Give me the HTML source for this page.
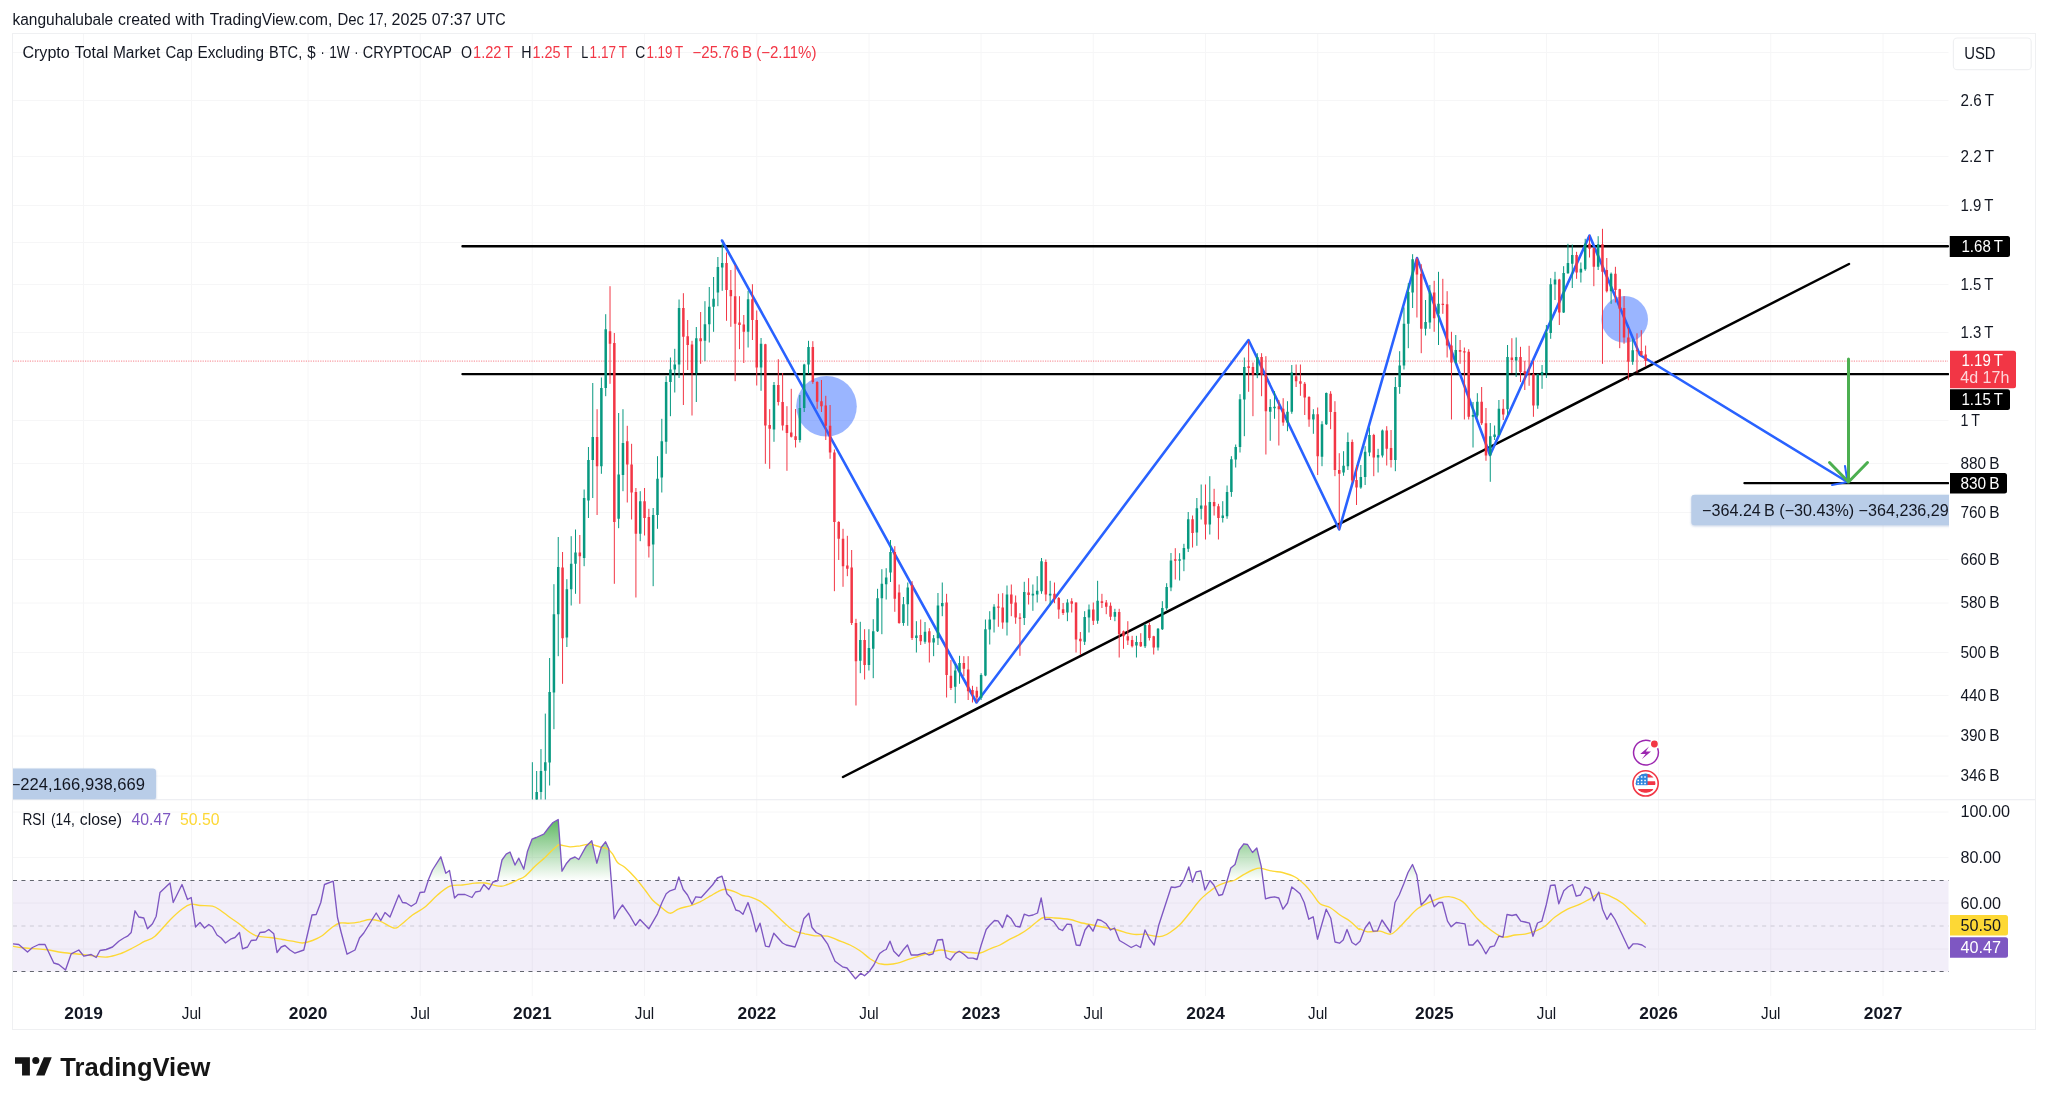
<!DOCTYPE html><html><head><meta charset="utf-8"><title>TradingView chart</title><style>html,body{margin:0;padding:0;background:#fff}body{width:2048px;height:1104px;overflow:hidden;font-family:"Liberation Sans",sans-serif}svg{display:block;will-change:transform}</style></head><body><svg width="2048" height="1104" viewBox="0 0 2048 1104" font-family='"Liberation Sans", sans-serif'><defs><clipPath id="mainclip"><rect x="13" y="34" width="1936" height="765.5"/></clipPath><clipPath id="rsiclip"><rect x="13" y="800.5" width="1936" height="186"/></clipPath><filter id="sh" x="-5%" y="-20%" width="110%" height="150%"><feDropShadow dx="0" dy="1" stdDeviation="1.2" flood-color="#5b7db8" flood-opacity="0.35"/></filter><linearGradient id="gob" x1="0" y1="0" x2="0" y2="1"><stop offset="0" stop-color="#4caf50" stop-opacity="1"/><stop offset="1" stop-color="#4caf50" stop-opacity="0"/></linearGradient><linearGradient id="gos" x1="0" y1="0" x2="0" y2="1"><stop offset="0" stop-color="#f44336" stop-opacity="0"/><stop offset="1" stop-color="#f44336" stop-opacity="1"/></linearGradient></defs><text x="12.5" y="24.8" font-size="16" fill="#131722" textLength="100.7" lengthAdjust="spacingAndGlyphs">kanguhalubale</text>
<text x="118" y="24.8" font-size="16" fill="#131722" textLength="52.7" lengthAdjust="spacingAndGlyphs">created</text>
<text x="175.6" y="24.8" font-size="16" fill="#131722" textLength="29.1" lengthAdjust="spacingAndGlyphs">with</text>
<text x="209.8" y="24.8" font-size="16" fill="#131722" textLength="122.5" lengthAdjust="spacingAndGlyphs">TradingView.com,</text>
<text x="337.4" y="24.8" font-size="16" fill="#131722" textLength="26.6" lengthAdjust="spacingAndGlyphs">Dec</text>
<text x="368.4" y="24.8" font-size="16" fill="#131722" textLength="18.8" lengthAdjust="spacingAndGlyphs">17,</text>
<text x="391.6" y="24.8" font-size="16" fill="#131722" textLength="35.6" lengthAdjust="spacingAndGlyphs">2025</text>
<text x="431.8" y="24.8" font-size="16" fill="#131722" textLength="39.7" lengthAdjust="spacingAndGlyphs">07:37</text>
<text x="476.1" y="24.8" font-size="16" fill="#131722" textLength="29.6" lengthAdjust="spacingAndGlyphs">UTC</text>
<rect x="12.5" y="33.5" width="2023" height="996" fill="#fff" stroke="#eff0f2" stroke-width="1"/>
<path d="M83.5 34V996M191.5 34V996M308.0 34V996M420.25 34V996M532.25 34V996M644.5 34V996M756.75 34V996M869.0 34V996M981.0 34V996M1093.25 34V996M1205.5 34V996M1317.75 34V996M1434.25 34V996M1546.5 34V996M1658.5 34V996M1770.75 34V996M1883.0 34V996M13 52.5H1948.5M13 100.5H1948.5M13 156.5H1948.5M13 205.5H1948.5M13 242.5H1948.5M13 284.5H1948.5M13 332.5H1948.5M13 420.5H1948.5M13 463.5H1948.5M13 512.5H1948.5M13 559.5H1948.5M13 603.0H1948.5M13 652.5H1948.5M13 695.5H1948.5M13 736.0H1948.5M13 776.0H1948.5M13 812.0H1948.5M13 857.5H1948.5M13 903.0H1948.5M13 949.0H1948.5" stroke="#f6f6f7" stroke-width="1" fill="none"/>
<path d="M13 799.7H2035" stroke="#e9eaef" stroke-width="1.1"/>
<rect x="13" y="880.45" width="1935.5" height="91.09999999999991" fill="#7e57c2" fill-opacity="0.1"/>
<path d="M13 880.45H1948.5" stroke="#62656f" stroke-width="1.1" stroke-dasharray="4 4.45" fill="none"/>
<path d="M13 926.0H1948.5" stroke="#cbc9d5" stroke-width="1.1" stroke-dasharray="4 4.45" fill="none"/>
<path d="M13 971.55H1948.5" stroke="#62656f" stroke-width="1.1" stroke-dasharray="4 4.45" fill="none"/>
<g clip-path="url(#rsiclip)">
<defs><clipPath id="ob"><rect x="0" y="802.125" width="2048" height="78.32500000000005"/></clipPath><clipPath id="os"><rect x="0" y="971.55" width="2048" height="68.32500000000005"/></clipPath><linearGradient id="gob2" gradientUnits="userSpaceOnUse" x1="0" y1="812.125" x2="0" y2="880.45"><stop offset="0" stop-color="#4caf50" stop-opacity="1"/><stop offset="1" stop-color="#4caf50" stop-opacity="0"/></linearGradient><linearGradient id="gos2" gradientUnits="userSpaceOnUse" x1="0" y1="971.55" x2="0" y2="1039.875"><stop offset="0" stop-color="#f44336" stop-opacity="0"/><stop offset="1" stop-color="#f44336" stop-opacity="1"/></linearGradient></defs>
<path d="M12.5 880.5L12.5 943.8L18.8 944.5L27.5 952.0L32.5 947.5L38.8 944.5L45.0 944.5L53.8 963.0L58.8 964.5L65.5 970.0L71.2 953.8L78.8 950.0L83.8 956.2L91.2 954.5L96.2 957.5L100.0 950.5L106.2 949.5L112.5 947.0L118.8 941.2L123.8 938.0L127.5 936.2L131.2 932.5L135.0 910.8L138.8 917.0L143.8 918.0L147.5 928.8L152.5 923.8L156.2 916.2L160.0 892.5L170.0 883.0L173.2 902.5L182.0 884.5L187.5 899.5L191.2 897.5L195.5 927.0L200.0 922.5L204.5 928.0L208.8 924.5L212.5 927.0L217.0 935.0L221.2 938.0L225.5 943.0L231.2 938.8L235.0 937.5L239.5 932.5L242.5 948.8L247.5 947.0L251.2 940.5L256.2 940.0L260.0 932.5L265.0 932.0L268.8 929.5L273.8 933.8L277.0 952.5L281.2 947.0L285.0 945.5L290.0 950.0L295.0 953.2L303.8 950.0L312.0 915.0L316.2 914.5L320.8 902.5L324.5 884.5L333.2 881.2L337.5 917.5L341.2 932.5L347.0 954.2L355.0 950.0L359.5 938.0L363.8 933.0L376.2 913.0L380.8 920.5L385.0 912.5L390.0 917.0L398.8 895.0L402.5 902.5L406.2 903.0L411.2 906.2L416.2 903.0L420.0 892.5L424.5 892.0L428.8 878.8L432.5 870.0L440.8 856.8L445.8 873.2L449.5 870.5L454.5 898.0L458.0 894.5L465.0 894.5L472.0 897.5L475.5 892.0L480.0 891.2L483.8 884.5L488.8 889.5L493.0 882.0L497.5 880.8L502.0 860.0L506.2 854.2L510.0 852.0L515.0 865.0L518.8 858.2L523.8 869.2L527.5 851.2L532.0 839.2L536.2 837.5L543.8 834.2L548.8 827.5L553.0 822.5L558.2 819.5L562.0 871.2L566.2 863.8L570.5 858.8L575.0 857.0L578.8 859.5L586.2 846.2L591.8 840.8L596.8 863.2L601.2 847.5L605.5 841.8L608.8 848.8L614.2 918.8L618.0 911.2L622.5 905.0L630.0 915.8L635.5 925.5L640.0 919.5L648.8 928.8L657.5 913.8L662.0 902.5L666.2 893.8L670.0 890.8L675.0 889.2L678.8 877.0L683.2 889.5L687.5 895.0L692.0 904.2L695.8 896.8L701.2 897.5L712.5 885.0L717.5 878.0L722.0 876.2L727.0 893.8L730.8 897.5L735.8 910.0L739.5 911.2L743.0 914.2L748.0 902.5L752.0 915.0L756.2 931.8L760.0 923.2L765.5 946.2L769.2 946.8L773.8 933.2L782.5 943.0L786.2 945.0L795.0 947.0L799.5 935.0L803.8 918.8L808.8 913.2L812.0 927.5L816.2 932.5L821.2 935.0L827.5 943.8L835.0 961.2L842.5 966.8L847.0 968.0L855.5 978.8L860.8 973.2L864.5 975.8L869.5 971.2L873.8 965.0L878.8 955.0L880.0 953.2L883.8 950.5L886.2 949.5L890.0 941.2L893.8 951.2L898.8 956.2L903.8 949.2L907.5 945.0L911.2 955.0L917.5 955.0L921.2 953.8L925.0 953.0L928.8 955.0L933.0 953.8L937.5 940.0L942.5 939.5L946.2 957.5L950.5 960.0L955.0 953.8L959.2 951.2L963.8 954.2L968.0 958.0L973.0 958.2L977.0 959.5L981.2 945.0L986.2 929.5L990.0 925.0L994.5 920.5L998.0 920.8L1002.5 927.5L1007.0 915.0L1011.2 918.8L1015.5 926.2L1020.0 927.0L1024.2 914.2L1028.8 915.8L1033.0 915.0L1037.5 913.0L1041.2 898.0L1045.0 919.5L1050.0 919.2L1053.8 921.8L1058.8 928.8L1062.5 930.5L1067.0 924.2L1071.2 924.5L1076.2 945.0L1080.0 945.5L1085.0 930.0L1088.8 925.0L1093.0 931.2L1097.5 919.5L1101.2 920.5L1106.2 923.8L1110.5 930.0L1114.5 928.0L1119.5 940.5L1123.8 943.0L1131.2 947.5L1136.2 945.0L1140.5 947.5L1145.0 930.0L1149.5 938.8L1154.2 945.0L1158.8 925.0L1171.2 887.0L1175.0 887.5L1180.0 886.2L1183.8 880.0L1188.8 867.0L1192.5 882.0L1196.2 871.8L1200.8 870.8L1205.0 890.0L1210.0 880.5L1213.8 885.0L1218.8 895.5L1222.5 894.5L1226.2 883.8L1230.8 868.0L1235.0 864.5L1239.2 850.0L1243.8 843.8L1247.5 844.5L1252.5 852.5L1256.8 848.0L1261.2 866.2L1265.5 898.8L1270.0 897.5L1274.5 896.8L1278.8 898.0L1283.0 909.2L1287.5 903.0L1291.8 887.0L1296.2 890.5L1300.0 893.8L1304.2 902.5L1308.8 919.2L1313.2 916.8L1317.5 939.2L1326.2 909.2L1330.8 918.2L1335.0 942.0L1339.5 943.2L1343.2 940.0L1347.0 929.5L1352.0 942.5L1355.8 945.0L1360.0 941.2L1365.0 928.2L1369.5 922.0L1373.2 931.2L1377.5 930.8L1382.0 920.0L1390.5 932.5L1395.0 902.5L1399.2 895.0L1403.8 883.8L1408.0 872.5L1412.5 864.5L1416.8 875.0L1421.2 905.0L1425.5 900.5L1430.0 894.5L1434.2 906.8L1438.8 902.5L1442.5 902.5L1447.5 921.2L1451.2 926.8L1456.2 922.5L1460.5 923.2L1465.0 923.8L1468.8 945.0L1473.0 945.0L1477.5 940.0L1481.8 946.2L1485.8 953.8L1490.0 947.0L1494.5 945.8L1498.8 936.2L1503.0 937.0L1507.0 914.5L1512.0 915.5L1516.2 914.5L1520.8 921.2L1525.0 922.0L1529.5 923.2L1533.0 936.2L1537.5 923.0L1541.8 921.2L1546.2 905.0L1550.5 885.5L1555.0 885.0L1558.8 903.8L1563.8 890.8L1568.0 887.0L1572.5 884.5L1576.2 896.2L1580.5 895.0L1585.0 886.8L1590.0 889.2L1593.8 900.8L1598.8 892.0L1602.5 909.2L1607.0 919.5L1610.8 913.2L1615.0 919.5L1628.8 948.8L1633.2 943.8L1637.5 943.8L1642.0 945.0L1645.8 947.5L1645.8 880.5Z" fill="url(#gob2)" clip-path="url(#ob)"/>
<path d="M12.5 971.5L12.5 943.8L18.8 944.5L27.5 952.0L32.5 947.5L38.8 944.5L45.0 944.5L53.8 963.0L58.8 964.5L65.5 970.0L71.2 953.8L78.8 950.0L83.8 956.2L91.2 954.5L96.2 957.5L100.0 950.5L106.2 949.5L112.5 947.0L118.8 941.2L123.8 938.0L127.5 936.2L131.2 932.5L135.0 910.8L138.8 917.0L143.8 918.0L147.5 928.8L152.5 923.8L156.2 916.2L160.0 892.5L170.0 883.0L173.2 902.5L182.0 884.5L187.5 899.5L191.2 897.5L195.5 927.0L200.0 922.5L204.5 928.0L208.8 924.5L212.5 927.0L217.0 935.0L221.2 938.0L225.5 943.0L231.2 938.8L235.0 937.5L239.5 932.5L242.5 948.8L247.5 947.0L251.2 940.5L256.2 940.0L260.0 932.5L265.0 932.0L268.8 929.5L273.8 933.8L277.0 952.5L281.2 947.0L285.0 945.5L290.0 950.0L295.0 953.2L303.8 950.0L312.0 915.0L316.2 914.5L320.8 902.5L324.5 884.5L333.2 881.2L337.5 917.5L341.2 932.5L347.0 954.2L355.0 950.0L359.5 938.0L363.8 933.0L376.2 913.0L380.8 920.5L385.0 912.5L390.0 917.0L398.8 895.0L402.5 902.5L406.2 903.0L411.2 906.2L416.2 903.0L420.0 892.5L424.5 892.0L428.8 878.8L432.5 870.0L440.8 856.8L445.8 873.2L449.5 870.5L454.5 898.0L458.0 894.5L465.0 894.5L472.0 897.5L475.5 892.0L480.0 891.2L483.8 884.5L488.8 889.5L493.0 882.0L497.5 880.8L502.0 860.0L506.2 854.2L510.0 852.0L515.0 865.0L518.8 858.2L523.8 869.2L527.5 851.2L532.0 839.2L536.2 837.5L543.8 834.2L548.8 827.5L553.0 822.5L558.2 819.5L562.0 871.2L566.2 863.8L570.5 858.8L575.0 857.0L578.8 859.5L586.2 846.2L591.8 840.8L596.8 863.2L601.2 847.5L605.5 841.8L608.8 848.8L614.2 918.8L618.0 911.2L622.5 905.0L630.0 915.8L635.5 925.5L640.0 919.5L648.8 928.8L657.5 913.8L662.0 902.5L666.2 893.8L670.0 890.8L675.0 889.2L678.8 877.0L683.2 889.5L687.5 895.0L692.0 904.2L695.8 896.8L701.2 897.5L712.5 885.0L717.5 878.0L722.0 876.2L727.0 893.8L730.8 897.5L735.8 910.0L739.5 911.2L743.0 914.2L748.0 902.5L752.0 915.0L756.2 931.8L760.0 923.2L765.5 946.2L769.2 946.8L773.8 933.2L782.5 943.0L786.2 945.0L795.0 947.0L799.5 935.0L803.8 918.8L808.8 913.2L812.0 927.5L816.2 932.5L821.2 935.0L827.5 943.8L835.0 961.2L842.5 966.8L847.0 968.0L855.5 978.8L860.8 973.2L864.5 975.8L869.5 971.2L873.8 965.0L878.8 955.0L880.0 953.2L883.8 950.5L886.2 949.5L890.0 941.2L893.8 951.2L898.8 956.2L903.8 949.2L907.5 945.0L911.2 955.0L917.5 955.0L921.2 953.8L925.0 953.0L928.8 955.0L933.0 953.8L937.5 940.0L942.5 939.5L946.2 957.5L950.5 960.0L955.0 953.8L959.2 951.2L963.8 954.2L968.0 958.0L973.0 958.2L977.0 959.5L981.2 945.0L986.2 929.5L990.0 925.0L994.5 920.5L998.0 920.8L1002.5 927.5L1007.0 915.0L1011.2 918.8L1015.5 926.2L1020.0 927.0L1024.2 914.2L1028.8 915.8L1033.0 915.0L1037.5 913.0L1041.2 898.0L1045.0 919.5L1050.0 919.2L1053.8 921.8L1058.8 928.8L1062.5 930.5L1067.0 924.2L1071.2 924.5L1076.2 945.0L1080.0 945.5L1085.0 930.0L1088.8 925.0L1093.0 931.2L1097.5 919.5L1101.2 920.5L1106.2 923.8L1110.5 930.0L1114.5 928.0L1119.5 940.5L1123.8 943.0L1131.2 947.5L1136.2 945.0L1140.5 947.5L1145.0 930.0L1149.5 938.8L1154.2 945.0L1158.8 925.0L1171.2 887.0L1175.0 887.5L1180.0 886.2L1183.8 880.0L1188.8 867.0L1192.5 882.0L1196.2 871.8L1200.8 870.8L1205.0 890.0L1210.0 880.5L1213.8 885.0L1218.8 895.5L1222.5 894.5L1226.2 883.8L1230.8 868.0L1235.0 864.5L1239.2 850.0L1243.8 843.8L1247.5 844.5L1252.5 852.5L1256.8 848.0L1261.2 866.2L1265.5 898.8L1270.0 897.5L1274.5 896.8L1278.8 898.0L1283.0 909.2L1287.5 903.0L1291.8 887.0L1296.2 890.5L1300.0 893.8L1304.2 902.5L1308.8 919.2L1313.2 916.8L1317.5 939.2L1326.2 909.2L1330.8 918.2L1335.0 942.0L1339.5 943.2L1343.2 940.0L1347.0 929.5L1352.0 942.5L1355.8 945.0L1360.0 941.2L1365.0 928.2L1369.5 922.0L1373.2 931.2L1377.5 930.8L1382.0 920.0L1390.5 932.5L1395.0 902.5L1399.2 895.0L1403.8 883.8L1408.0 872.5L1412.5 864.5L1416.8 875.0L1421.2 905.0L1425.5 900.5L1430.0 894.5L1434.2 906.8L1438.8 902.5L1442.5 902.5L1447.5 921.2L1451.2 926.8L1456.2 922.5L1460.5 923.2L1465.0 923.8L1468.8 945.0L1473.0 945.0L1477.5 940.0L1481.8 946.2L1485.8 953.8L1490.0 947.0L1494.5 945.8L1498.8 936.2L1503.0 937.0L1507.0 914.5L1512.0 915.5L1516.2 914.5L1520.8 921.2L1525.0 922.0L1529.5 923.2L1533.0 936.2L1537.5 923.0L1541.8 921.2L1546.2 905.0L1550.5 885.5L1555.0 885.0L1558.8 903.8L1563.8 890.8L1568.0 887.0L1572.5 884.5L1576.2 896.2L1580.5 895.0L1585.0 886.8L1590.0 889.2L1593.8 900.8L1598.8 892.0L1602.5 909.2L1607.0 919.5L1610.8 913.2L1615.0 919.5L1628.8 948.8L1633.2 943.8L1637.5 943.8L1642.0 945.0L1645.8 947.5L1645.8 971.5Z" fill="url(#gos2)" clip-path="url(#os)"/>
<path d="M12.5 946.2C14.6 946.5 19.6 947.5 25.0 948.0C30.4 948.5 38.8 948.8 45.0 949.5C51.2 950.2 56.2 951.7 62.5 952.5C68.8 953.3 77.1 953.9 82.5 954.5C87.9 955.1 90.8 955.8 95.0 956.2C99.2 956.7 103.3 957.4 107.5 957.0C111.7 956.6 115.8 955.2 120.0 953.8C124.2 952.2 128.3 950.1 132.5 948.0C136.7 945.9 141.2 943.2 145.0 941.2C148.8 939.3 150.8 939.8 155.0 936.2C159.2 932.7 165.4 924.6 170.0 920.0C174.6 915.4 179.0 911.4 182.5 908.8C186.0 906.1 188.3 904.8 191.2 904.2C194.2 903.7 196.5 905.2 200.0 905.5C203.5 905.8 209.2 905.5 212.5 906.2C215.8 907.0 217.1 908.1 220.0 910.0C222.9 911.9 226.7 915.1 230.0 917.5C233.3 919.9 236.7 922.0 240.0 924.5C243.3 927.0 247.1 930.5 250.0 932.5C252.9 934.5 254.2 935.4 257.5 936.2C260.8 937.1 265.8 937.0 270.0 937.5C274.2 938.0 278.8 938.9 282.5 939.5C286.2 940.1 289.2 940.7 292.5 941.2C295.8 941.8 299.2 943.1 302.5 943.0C305.8 942.9 309.2 941.8 312.5 940.5C315.8 939.2 319.2 937.8 322.5 935.5C325.8 933.2 329.6 929.1 332.5 927.0C335.4 924.9 337.1 923.6 340.0 923.0C342.9 922.4 346.7 923.5 350.0 923.2C353.3 923.0 356.7 922.4 360.0 921.8C363.3 921.1 366.7 919.6 370.0 919.5C373.3 919.4 376.0 919.8 380.0 921.2C384.0 922.7 390.4 927.3 393.8 928.0C397.1 928.7 396.9 927.7 400.0 925.5C403.1 923.3 408.3 918.1 412.5 915.0C416.7 911.9 420.8 910.3 425.0 907.0C429.2 903.7 433.3 898.5 437.5 895.0C441.7 891.5 445.8 887.9 450.0 886.2C454.2 884.6 458.3 885.5 462.5 885.0C466.7 884.5 471.2 883.6 475.0 883.2C478.8 882.9 480.8 882.5 485.0 883.0C489.2 883.5 496.2 886.0 500.0 886.2C503.8 886.5 504.6 885.5 507.5 884.5C510.4 883.5 514.6 881.4 517.5 880.0C520.4 878.6 522.1 878.5 525.0 876.2C527.9 874.0 531.7 869.4 535.0 866.2C538.3 863.1 542.1 860.2 545.0 857.5C547.9 854.8 550.6 851.8 552.5 850.0C554.4 848.2 555.5 847.3 556.5 846.5C557.5 845.7 557.5 845.2 558.2 845.0C559.0 844.8 558.8 844.7 560.8 845.0C562.7 845.3 566.8 846.6 570.0 846.8C573.2 846.9 576.7 846.2 580.0 845.8C583.3 845.3 586.7 844.0 590.0 844.2C593.3 844.5 597.1 846.2 600.0 847.0C602.9 847.8 605.4 847.6 607.5 848.8C609.6 849.9 610.8 851.5 612.5 853.8C614.2 856.0 615.4 860.2 617.5 862.5C619.6 864.8 622.1 865.0 625.0 867.5C627.9 870.0 631.7 873.8 635.0 877.5C638.3 881.2 642.1 886.2 645.0 890.0C647.9 893.8 650.0 897.3 652.5 900.0C655.0 902.7 657.1 904.0 660.0 906.2C662.9 908.5 666.9 912.8 670.0 913.2C673.1 913.7 675.4 910.0 678.8 908.8C682.1 907.5 686.5 906.9 690.0 905.8C693.5 904.6 696.7 903.3 700.0 901.8C703.3 900.2 707.1 897.9 710.0 896.2C712.9 894.6 715.0 892.9 717.5 891.8C720.0 890.6 722.1 889.2 725.0 889.2C727.9 889.2 732.1 890.7 735.0 891.8C737.9 892.8 740.0 894.7 742.5 895.5C745.0 896.3 747.1 895.8 750.0 896.8C752.9 897.7 756.7 899.2 760.0 901.2C763.3 903.3 766.7 906.3 770.0 909.2C773.3 912.2 777.1 916.0 780.0 918.8C782.9 921.5 785.0 923.7 787.5 925.8C790.0 927.8 792.1 929.9 795.0 931.2C797.9 932.6 801.7 933.0 805.0 933.8C808.3 934.5 811.2 935.3 815.0 935.8C818.8 936.2 823.8 935.5 827.5 936.2C831.2 937.0 833.8 938.5 837.5 940.0C841.2 941.5 846.2 943.2 850.0 945.0C853.8 946.8 856.7 948.5 860.0 950.8C863.3 953.0 867.1 956.7 870.0 958.8C872.9 960.8 875.8 962.2 877.5 963.0C879.2 963.8 878.3 963.5 880.0 963.8C881.7 964.0 884.6 964.6 887.5 964.5C890.4 964.4 893.8 964.2 897.5 963.2C901.2 962.3 905.8 960.1 910.0 958.8C914.2 957.4 918.8 956.1 922.5 955.0C926.2 953.9 929.4 952.8 932.5 952.0C935.6 951.2 937.9 950.0 941.2 950.0C944.6 950.0 948.5 951.7 952.5 952.0C956.5 952.3 960.4 951.8 965.0 952.0C969.6 952.2 975.8 953.5 980.0 953.0C984.2 952.5 986.7 950.1 990.0 948.8C993.3 947.4 996.7 946.6 1000.0 945.0C1003.3 943.4 1006.7 941.0 1010.0 939.2C1013.3 937.5 1016.7 936.2 1020.0 934.2C1023.3 932.3 1027.1 929.7 1030.0 927.5C1032.9 925.3 1035.2 922.9 1037.5 921.2C1039.8 919.6 1040.8 918.0 1043.8 917.5C1046.7 917.0 1050.6 917.7 1055.0 918.0C1059.4 918.3 1065.8 918.8 1070.0 919.5C1074.2 920.2 1076.2 921.6 1080.0 922.5C1083.8 923.4 1088.3 924.2 1092.5 925.0C1096.7 925.8 1100.8 926.7 1105.0 927.5C1109.2 928.3 1112.9 928.9 1117.5 930.0C1122.1 931.1 1127.9 933.5 1132.5 934.2C1137.1 935.0 1141.2 933.9 1145.0 934.2C1148.8 934.6 1152.1 935.9 1155.0 936.2C1157.9 936.6 1160.0 936.9 1162.5 936.2C1165.0 935.6 1167.1 934.5 1170.0 932.5C1172.9 930.5 1176.7 927.8 1180.0 924.5C1183.3 921.2 1186.7 916.6 1190.0 912.5C1193.3 908.4 1196.7 903.5 1200.0 900.0C1203.3 896.5 1207.1 893.6 1210.0 891.2C1212.9 888.9 1214.6 887.3 1217.5 885.8C1220.4 884.2 1224.6 883.0 1227.5 882.0C1230.4 881.0 1232.1 881.4 1235.0 880.0C1237.9 878.6 1241.9 875.5 1245.0 873.8C1248.1 872.0 1251.2 870.4 1253.8 869.5C1256.2 868.6 1256.9 868.0 1260.0 868.2C1263.1 868.5 1268.8 870.5 1272.5 871.2C1276.2 872.0 1278.8 871.5 1282.5 872.5C1286.2 873.5 1291.2 874.9 1295.0 877.0C1298.8 879.1 1302.1 882.2 1305.0 885.0C1307.9 887.8 1310.0 890.6 1312.5 893.8C1315.0 896.9 1317.1 901.5 1320.0 903.8C1322.9 906.0 1326.7 905.6 1330.0 907.5C1333.3 909.4 1336.7 912.7 1340.0 915.0C1343.3 917.3 1346.9 918.9 1350.0 921.2C1353.1 923.6 1357.1 928.0 1358.8 929.2C1360.4 930.5 1358.5 928.3 1360.0 928.8C1361.5 929.2 1364.2 931.3 1367.5 931.8C1370.8 932.2 1376.2 930.8 1380.0 931.2C1383.8 931.7 1387.6 934.6 1390.5 934.2C1393.4 933.9 1394.7 931.8 1397.5 929.2C1400.3 926.7 1404.2 922.2 1407.5 918.8C1410.8 915.3 1414.2 911.3 1417.5 908.8C1420.8 906.2 1423.8 905.0 1427.5 903.2C1431.2 901.5 1436.2 899.1 1440.0 898.0C1443.8 896.9 1447.4 896.5 1450.5 896.8C1453.6 897.0 1456.3 898.3 1458.8 899.5C1461.2 900.7 1461.9 900.5 1465.0 903.8C1468.1 907.0 1473.3 914.5 1477.5 918.8C1481.7 923.0 1485.8 926.5 1490.0 929.5C1494.2 932.5 1498.3 936.1 1502.5 937.0C1506.7 937.9 1511.2 935.5 1515.0 935.0C1518.8 934.5 1521.7 934.9 1525.0 934.2C1528.3 933.6 1531.7 932.6 1535.0 931.2C1538.3 929.9 1541.7 928.6 1545.0 926.2C1548.3 923.9 1551.2 919.8 1555.0 917.0C1558.8 914.2 1563.3 911.4 1567.5 909.2C1571.7 907.1 1576.2 906.0 1580.0 904.2C1583.8 902.5 1586.7 900.6 1590.0 898.8C1593.3 896.9 1596.7 893.7 1600.0 893.2C1603.3 892.8 1606.2 894.6 1610.0 896.2C1613.8 897.9 1618.8 900.5 1622.5 903.2C1626.2 906.0 1629.4 909.7 1632.5 912.5C1635.6 915.3 1639.0 918.0 1641.2 920.0C1643.5 922.0 1645.0 923.8 1645.8 924.5" fill="none" stroke="#fdd835" stroke-width="1.35" stroke-linejoin="round"/>
<path d="M12.5 943.8L18.8 944.5L27.5 952.0L32.5 947.5L38.8 944.5L45.0 944.5L53.8 963.0L58.8 964.5L65.5 970.0L71.2 953.8L78.8 950.0L83.8 956.2L91.2 954.5L96.2 957.5L100.0 950.5L106.2 949.5L112.5 947.0L118.8 941.2L123.8 938.0L127.5 936.2L131.2 932.5L135.0 910.8L138.8 917.0L143.8 918.0L147.5 928.8L152.5 923.8L156.2 916.2L160.0 892.5L170.0 883.0L173.2 902.5L182.0 884.5L187.5 899.5L191.2 897.5L195.5 927.0L200.0 922.5L204.5 928.0L208.8 924.5L212.5 927.0L217.0 935.0L221.2 938.0L225.5 943.0L231.2 938.8L235.0 937.5L239.5 932.5L242.5 948.8L247.5 947.0L251.2 940.5L256.2 940.0L260.0 932.5L265.0 932.0L268.8 929.5L273.8 933.8L277.0 952.5L281.2 947.0L285.0 945.5L290.0 950.0L295.0 953.2L303.8 950.0L312.0 915.0L316.2 914.5L320.8 902.5L324.5 884.5L333.2 881.2L337.5 917.5L341.2 932.5L347.0 954.2L355.0 950.0L359.5 938.0L363.8 933.0L376.2 913.0L380.8 920.5L385.0 912.5L390.0 917.0L398.8 895.0L402.5 902.5L406.2 903.0L411.2 906.2L416.2 903.0L420.0 892.5L424.5 892.0L428.8 878.8L432.5 870.0L440.8 856.8L445.8 873.2L449.5 870.5L454.5 898.0L458.0 894.5L465.0 894.5L472.0 897.5L475.5 892.0L480.0 891.2L483.8 884.5L488.8 889.5L493.0 882.0L497.5 880.8L502.0 860.0L506.2 854.2L510.0 852.0L515.0 865.0L518.8 858.2L523.8 869.2L527.5 851.2L532.0 839.2L536.2 837.5L543.8 834.2L548.8 827.5L553.0 822.5L558.2 819.5L562.0 871.2L566.2 863.8L570.5 858.8L575.0 857.0L578.8 859.5L586.2 846.2L591.8 840.8L596.8 863.2L601.2 847.5L605.5 841.8L608.8 848.8L614.2 918.8L618.0 911.2L622.5 905.0L630.0 915.8L635.5 925.5L640.0 919.5L648.8 928.8L657.5 913.8L662.0 902.5L666.2 893.8L670.0 890.8L675.0 889.2L678.8 877.0L683.2 889.5L687.5 895.0L692.0 904.2L695.8 896.8L701.2 897.5L712.5 885.0L717.5 878.0L722.0 876.2L727.0 893.8L730.8 897.5L735.8 910.0L739.5 911.2L743.0 914.2L748.0 902.5L752.0 915.0L756.2 931.8L760.0 923.2L765.5 946.2L769.2 946.8L773.8 933.2L782.5 943.0L786.2 945.0L795.0 947.0L799.5 935.0L803.8 918.8L808.8 913.2L812.0 927.5L816.2 932.5L821.2 935.0L827.5 943.8L835.0 961.2L842.5 966.8L847.0 968.0L855.5 978.8L860.8 973.2L864.5 975.8L869.5 971.2L873.8 965.0L878.8 955.0L880.0 953.2L883.8 950.5L886.2 949.5L890.0 941.2L893.8 951.2L898.8 956.2L903.8 949.2L907.5 945.0L911.2 955.0L917.5 955.0L921.2 953.8L925.0 953.0L928.8 955.0L933.0 953.8L937.5 940.0L942.5 939.5L946.2 957.5L950.5 960.0L955.0 953.8L959.2 951.2L963.8 954.2L968.0 958.0L973.0 958.2L977.0 959.5L981.2 945.0L986.2 929.5L990.0 925.0L994.5 920.5L998.0 920.8L1002.5 927.5L1007.0 915.0L1011.2 918.8L1015.5 926.2L1020.0 927.0L1024.2 914.2L1028.8 915.8L1033.0 915.0L1037.5 913.0L1041.2 898.0L1045.0 919.5L1050.0 919.2L1053.8 921.8L1058.8 928.8L1062.5 930.5L1067.0 924.2L1071.2 924.5L1076.2 945.0L1080.0 945.5L1085.0 930.0L1088.8 925.0L1093.0 931.2L1097.5 919.5L1101.2 920.5L1106.2 923.8L1110.5 930.0L1114.5 928.0L1119.5 940.5L1123.8 943.0L1131.2 947.5L1136.2 945.0L1140.5 947.5L1145.0 930.0L1149.5 938.8L1154.2 945.0L1158.8 925.0L1171.2 887.0L1175.0 887.5L1180.0 886.2L1183.8 880.0L1188.8 867.0L1192.5 882.0L1196.2 871.8L1200.8 870.8L1205.0 890.0L1210.0 880.5L1213.8 885.0L1218.8 895.5L1222.5 894.5L1226.2 883.8L1230.8 868.0L1235.0 864.5L1239.2 850.0L1243.8 843.8L1247.5 844.5L1252.5 852.5L1256.8 848.0L1261.2 866.2L1265.5 898.8L1270.0 897.5L1274.5 896.8L1278.8 898.0L1283.0 909.2L1287.5 903.0L1291.8 887.0L1296.2 890.5L1300.0 893.8L1304.2 902.5L1308.8 919.2L1313.2 916.8L1317.5 939.2L1326.2 909.2L1330.8 918.2L1335.0 942.0L1339.5 943.2L1343.2 940.0L1347.0 929.5L1352.0 942.5L1355.8 945.0L1360.0 941.2L1365.0 928.2L1369.5 922.0L1373.2 931.2L1377.5 930.8L1382.0 920.0L1390.5 932.5L1395.0 902.5L1399.2 895.0L1403.8 883.8L1408.0 872.5L1412.5 864.5L1416.8 875.0L1421.2 905.0L1425.5 900.5L1430.0 894.5L1434.2 906.8L1438.8 902.5L1442.5 902.5L1447.5 921.2L1451.2 926.8L1456.2 922.5L1460.5 923.2L1465.0 923.8L1468.8 945.0L1473.0 945.0L1477.5 940.0L1481.8 946.2L1485.8 953.8L1490.0 947.0L1494.5 945.8L1498.8 936.2L1503.0 937.0L1507.0 914.5L1512.0 915.5L1516.2 914.5L1520.8 921.2L1525.0 922.0L1529.5 923.2L1533.0 936.2L1537.5 923.0L1541.8 921.2L1546.2 905.0L1550.5 885.5L1555.0 885.0L1558.8 903.8L1563.8 890.8L1568.0 887.0L1572.5 884.5L1576.2 896.2L1580.5 895.0L1585.0 886.8L1590.0 889.2L1593.8 900.8L1598.8 892.0L1602.5 909.2L1607.0 919.5L1610.8 913.2L1615.0 919.5L1628.8 948.8L1633.2 943.8L1637.5 943.8L1642.0 945.0L1645.8 947.5" fill="none" stroke="#7e57c2" stroke-width="1.35" stroke-linejoin="round"/>
</g>
<circle cx="826.5" cy="406.3" r="30.3" fill="#2962ff" fill-opacity="0.47" stroke="none"/>
<circle cx="1624.7" cy="319.4" r="23.3" fill="#2962ff" fill-opacity="0.47" stroke="none"/>
<g clip-path="url(#mainclip)" fill="none" stroke-linecap="round" stroke-linejoin="round">
<path d="M13 361.1H1948" stroke="#f23645" stroke-opacity="0.5" stroke-width="1.4" stroke-dasharray="1.2 1.2" stroke-linecap="butt"/>
<path d="M462.5 246.25H1948M462.5 374.1H1948M1744.5 483.1H1948" stroke="#000" stroke-width="2.4" stroke-linecap="round"/>
<path d="M843 777L1849 264" stroke="#000" stroke-width="2.5"/>
<path d="M722 240.5L976.5 702.5L1248.5 340L1339.2 529.5L1417 258L1490 455L1589.5 235.5L1640 355L1847.5 482" stroke="#2962ff" stroke-width="2.6"/>
<path d="M1845 466L1847.5 482L1832 485" stroke="#2962ff" stroke-width="2"/>
<path d="M1848.5 359V482M1829.5 462.5L1848.5 482L1867.5 462.5" stroke="#4caf50" stroke-width="3"/>
</g>
<g clip-path="url(#mainclip)">
<path d="M532.35 762.2V824.5M536.67 771.0V824.5M540.98 749.1V824.5M545.30 713.6V824.5M549.61 658.0V785.5M553.93 584.2V729.2M558.24 537.0V656.2M566.87 579.2V647.0M571.19 536.2V605.5M575.50 529.5V593.8M584.13 489.5V566.2M588.45 447.0V518.0M592.76 383.0V498.0M601.39 377.5V473.8M605.71 314.2V396.2M618.65 413.0V528.2M622.97 409.2V491.2M640.23 491.2V541.2M653.17 508.0V586.2M657.49 456.2V528.8M661.80 418.8V492.5M666.12 376.2V453.8M670.43 357.5V416.2M674.75 348.8V392.5M679.06 299.5V378.0M696.32 327.0V402.0M704.95 301.2V361.2M709.27 287.0V342.5M713.58 277.0V331.8M717.89 257.0V306.2M722.21 243.8V290.8M748.10 290.8V347.5M761.05 338.0V390.8M773.99 382.0V441.8M799.88 395.0V442.5M804.20 363.8V412.0M808.51 340.8V373.8M860.29 621.8V673.2M868.92 629.2V670.5M873.24 619.2V678.2M877.55 588.8V632.0M881.87 569.2V634.2M886.18 568.2V599.5M890.50 540.0V582.0M903.44 597.0V625.8M907.76 582.5V625.8M916.38 621.2V652.5M925.02 622.0V643.8M933.64 635.0V656.2M937.96 593.0V645.0M942.28 582.5V616.2M955.22 663.8V703.2M959.54 655.8V683.8M981.11 673.2V700.0M985.43 619.5V676.2M989.74 611.2V644.5M994.06 604.2V632.5M1007.00 585.5V635.5M1024.26 581.8V625.0M1032.89 584.5V610.8M1037.20 576.2V602.5M1041.52 558.0V593.8M1050.15 580.8V605.5M1067.41 599.2V621.2M1084.67 611.2V645.0M1088.99 604.5V632.5M1097.62 580.8V623.8M1114.88 608.8V621.2M1136.45 635.8V657.5M1145.08 623.8V648.0M1158.03 628.0V650.5M1162.34 601.2V630.0M1166.66 583.2V610.0M1170.97 553.0V591.2M1179.60 553.2V580.5M1183.91 543.8V571.2M1188.23 512.0V552.0M1196.86 498.0V545.8M1201.18 484.5V519.5M1209.81 476.2V534.5M1222.75 501.2V522.5M1227.07 485.5V518.8M1231.38 456.2V496.8M1235.70 444.5V467.5M1240.01 394.2V452.5M1244.33 357.5V436.2M1257.27 353.2V378.2M1270.22 399.2V440.8M1274.53 391.2V418.8M1287.48 401.2V431.2M1291.79 365.0V413.8M1313.37 409.2V433.8M1322.00 421.2V466.2M1326.31 392.5V425.0M1343.57 451.2V475.8M1347.89 432.5V470.0M1360.83 465.0V488.8M1365.14 446.2V485.0M1369.46 427.5V456.2M1378.09 448.8V472.5M1382.41 429.5V457.5M1395.35 377.0V471.2M1399.66 351.2V393.8M1403.98 307.5V369.5M1408.30 283.2V348.2M1412.61 254.2V308.0M1425.56 300.0V335.5M1429.87 285.0V328.8M1438.50 271.8V345.0M1455.76 335.0V363.8M1473.02 402.0V447.5M1477.34 393.2V417.5M1490.28 423.0V481.8M1494.60 425.5V440.0M1498.91 400.0V435.5M1507.54 345.0V415.0M1516.17 337.5V377.0M1537.75 373.8V408.8M1542.06 365.0V388.8M1546.38 325.0V378.0M1550.69 278.2V338.8M1555.01 271.8V300.0M1563.64 266.2V313.0M1567.95 243.8V273.8M1572.27 244.5V288.0M1580.89 262.5V282.5M1585.21 238.8V270.8M1598.16 236.2V270.0M1611.10 272.5V303.8M1632.68 338.6V364.8" stroke="#089981" stroke-width="1" fill="none"/>
<path d="M532.35 812.0V824.5M536.67 792.0V824.5M540.98 771.0V792.0M545.30 762.2V770.8M549.61 692.0V762.6M553.93 614.2V692.5M558.24 567.0V614.2M566.87 589.2V637.5M571.19 563.8V589.2M575.50 552.5V563.8M584.13 498.0V558.0M588.45 460.0V500.5M592.76 437.0V460.0M601.39 388.0V466.2M605.71 329.2V388.0M618.65 474.5V518.8M622.97 443.0V475.0M640.23 501.2V533.8M653.17 515.0V544.5M657.49 478.8V515.0M661.80 441.2V477.5M666.12 382.0V441.8M670.43 369.5V382.0M674.75 364.5V369.5M679.06 308.0V364.5M696.32 338.2V373.0M704.95 324.2V340.8M709.27 306.8V324.2M713.58 298.8V306.8M717.89 267.0V292.5M722.21 263.0V267.5M748.10 299.2V331.8M761.05 343.8V367.5M773.99 385.0V429.5M799.88 408.0V440.0M804.20 364.5V408.0M808.51 347.0V364.5M860.29 640.0V660.8M868.92 648.0V665.0M873.24 631.2V648.8M877.55 598.2V631.2M881.87 583.8V598.2M886.18 577.5V584.2M890.50 552.0V572.5M903.44 604.2V623.0M907.76 587.5V604.2M916.38 635.5V638.0M925.02 631.8V641.8M933.64 638.2V642.5M937.96 605.5V638.2M942.28 603.0V606.2M955.22 670.5V686.8M959.54 663.0V671.2M981.11 675.0V698.0M985.43 629.2V675.5M989.74 619.5V629.5M994.06 606.8V619.5M1007.00 594.5V622.5M1024.26 592.0V618.0M1032.89 593.8V595.5M1037.20 590.8V594.5M1041.52 561.2V591.2M1050.15 593.8V595.5M1067.41 602.5V612.5M1084.67 617.0V641.8M1088.99 609.5V617.5M1097.62 600.8V620.8M1114.88 612.0V616.8M1136.45 642.0V645.5M1145.08 625.0V646.2M1158.03 628.8V647.5M1162.34 608.0V629.2M1166.66 587.0V608.2M1170.97 560.5V587.5M1179.60 559.2V560.8M1183.91 548.0V559.5M1188.23 519.2V548.8M1196.86 508.2V532.5M1201.18 505.5V508.8M1209.81 502.0V524.5M1222.75 515.5V518.0M1227.07 492.0V516.2M1231.38 459.2V492.0M1235.70 447.0V459.5M1240.01 399.2V447.0M1244.33 367.0V399.5M1257.27 357.0V374.2M1270.22 407.0V411.8M1274.53 406.8V408.2M1287.48 411.8V422.5M1291.79 372.5V411.8M1313.37 414.2V419.5M1322.00 424.2V456.8M1326.31 393.0V424.2M1343.57 465.8V472.5M1347.89 442.0V466.2M1360.83 477.0V487.5M1365.14 451.8V477.0M1369.46 435.0V452.5M1378.09 455.0V457.5M1382.41 430.5V455.5M1395.35 387.0V460.0M1399.66 365.5V387.0M1403.98 323.8V365.5M1408.30 292.0V323.8M1412.61 259.2V292.5M1425.56 322.0V328.8M1429.87 292.5V322.5M1438.50 303.8V313.8M1455.76 350.0V362.5M1473.02 415.0V416.8M1477.34 401.8V415.5M1490.28 436.2V455.5M1494.60 434.5V437.0M1498.91 408.8V435.0M1507.54 357.0V409.2M1516.17 357.0V360.5M1537.75 374.5V405.5M1542.06 372.0V375.0M1546.38 332.5V373.0M1550.69 284.2V333.0M1555.01 279.5V284.5M1563.64 273.0V312.5M1567.95 263.0V273.2M1572.27 255.0V263.8M1580.89 268.8V272.5M1585.21 243.8V269.2M1598.16 244.2V266.8M1611.10 273.8V291.2M1632.68 350.2V361.8" stroke="#089981" stroke-width="2.5" fill="none"/>
<path d="M562.56 552.0V683.8M579.82 535.0V603.8M597.08 409.2V515.0M610.02 286.2V383.8M614.34 333.0V583.8M627.28 425.8V502.5M631.60 443.8V519.5M635.91 488.0V597.5M644.54 488.0V535.5M648.86 508.8V557.5M683.38 293.2V405.0M687.69 320.0V370.0M692.00 340.8V415.5M700.63 312.0V363.8M726.53 252.5V320.8M730.84 270.0V326.8M735.15 265.0V381.2M739.47 296.2V349.2M743.79 315.0V363.0M752.42 284.2V340.0M756.73 310.5V385.5M765.36 343.8V463.8M769.68 409.2V468.8M778.31 359.2V405.5M782.62 373.0V430.5M786.94 406.2V470.8M791.25 388.8V437.5M795.57 409.0V447.5M812.83 341.2V383.8M817.14 381.2V408.8M821.46 380.0V412.0M825.77 395.8V440.0M830.09 405.0V458.8M834.40 449.5V591.2M838.72 521.2V560.0M843.03 528.8V586.8M847.35 535.8V576.2M851.66 550.0V625.0M855.98 618.8V705.5M864.61 629.2V679.5M894.81 546.2V611.8M899.12 584.5V623.8M912.07 581.2V640.0M920.70 619.5V645.0M929.33 628.2V662.5M946.59 593.8V697.5M950.91 660.0V690.0M963.85 656.2V676.2M968.17 656.2V700.0M972.48 685.8V702.5M976.80 686.8V702.5M998.37 593.8V626.8M1002.69 593.2V628.8M1011.32 584.5V616.2M1015.63 595.5V623.8M1019.95 613.2V655.8M1028.58 578.2V604.5M1045.84 559.5V601.2M1054.47 582.5V603.2M1058.78 597.0V618.8M1063.10 603.0V615.0M1071.72 598.2V612.5M1076.04 602.5V652.5M1080.36 632.0V655.0M1093.30 602.5V625.0M1101.93 593.8V608.0M1106.25 600.0V614.2M1110.56 602.5V620.0M1119.19 608.8V657.5M1123.51 630.5V648.8M1127.82 621.2V645.0M1132.14 635.8V647.5M1140.77 633.2V647.0M1149.39 622.5V640.5M1153.71 635.8V654.5M1175.29 548.2V579.5M1192.55 515.5V547.5M1205.49 484.5V539.5M1214.12 488.8V515.5M1218.43 503.8V539.5M1248.64 341.2V391.8M1252.95 362.5V416.2M1261.59 353.2V396.2M1265.90 356.2V454.5M1278.85 400.0V445.5M1283.16 398.2V425.8M1296.11 364.5V387.0M1300.42 364.5V395.8M1304.74 382.0V415.0M1309.05 396.2V426.8M1317.68 407.5V475.0M1330.62 391.2V429.2M1334.94 401.2V476.2M1339.26 453.2V529.5M1352.20 439.5V482.5M1356.52 465.5V505.0M1373.78 433.8V476.2M1386.72 426.2V465.5M1391.04 430.0V467.5M1416.93 257.5V317.5M1421.24 264.2V353.2M1434.18 280.8V331.8M1442.82 278.8V313.8M1447.13 291.2V357.5M1451.45 331.8V419.5M1460.08 340.0V363.8M1464.39 347.5V419.5M1468.71 349.2V419.5M1481.65 387.0V425.0M1485.97 408.0V460.8M1503.23 399.2V420.0M1511.86 338.2V373.0M1520.49 346.8V382.0M1524.80 360.8V390.0M1529.12 345.8V385.8M1533.43 360.8V416.8M1559.32 278.8V325.0M1576.58 251.8V278.8M1589.53 235.5V257.5M1593.84 247.5V286.2M1602.47 228.8V363.8M1606.79 258.0V292.5M1615.41 266.8V302.5M1619.73 288.8V348.2M1624.05 296.2V343.8M1628.36 327.9V380.2M1636.99 333.3V372.5M1641.31 330.2V355.9M1645.62 345.6V366.4" stroke="#f23645" stroke-width="1" fill="none"/>
<path d="M562.56 567.5V638.2M579.82 552.5V556.2M597.08 437.0V466.2M610.02 331.2V343.8M614.34 343.0V522.0M627.28 441.2V464.5M631.60 464.5V492.5M635.91 492.0V533.8M644.54 501.2V518.0M648.86 517.0V546.2M683.38 308.0V336.8M687.69 336.2V345.0M692.00 344.5V373.0M700.63 338.2V341.2M726.53 263.0V290.0M730.84 290.0V296.2M735.15 296.2V323.8M739.47 322.5V325.0M743.79 324.5V331.8M752.42 299.2V320.0M756.73 320.0V367.5M765.36 344.2V425.5M769.68 425.0V428.8M778.31 385.0V402.0M782.62 402.0V425.5M786.94 425.0V433.0M791.25 432.5V436.8M795.57 436.2V440.0M812.83 347.0V382.0M817.14 382.0V401.8M821.46 401.2V406.2M825.77 405.5V425.8M830.09 425.8V452.5M834.40 452.5V522.0M838.72 522.0V538.8M843.03 538.8V566.2M847.35 565.5V568.8M851.66 567.5V623.0M855.98 623.0V661.2M864.61 640.0V665.0M894.81 552.0V598.8M899.12 592.5V623.0M912.07 585.0V638.0M920.70 635.0V641.2M929.33 631.2V642.5M946.59 602.5V675.0M950.91 675.8V688.0M963.85 663.0V668.8M968.17 669.5V691.2M972.48 690.0V694.5M976.80 690.8V697.5M998.37 606.5V607.8M1002.69 607.5V622.5M1011.32 594.5V603.8M1015.63 602.5V617.5M1019.95 617.5V618.8M1028.58 592.5V595.0M1045.84 562.0V594.5M1054.47 593.8V598.8M1058.78 598.0V609.5M1063.10 609.2V613.0M1071.72 601.2V603.8M1076.04 602.5V639.5M1080.36 638.8V641.2M1093.30 609.5V620.8M1101.93 601.2V603.0M1106.25 602.5V606.8M1110.56 605.8V616.8M1119.19 612.0V634.2M1123.51 631.2V636.2M1127.82 636.2V640.5M1132.14 640.0V646.2M1140.77 642.0V646.2M1149.39 625.0V638.0M1153.71 636.2V647.5M1175.29 559.2V560.8M1192.55 519.2V533.0M1205.49 505.5V524.5M1214.12 502.0V506.2M1218.43 506.2V518.0M1248.64 366.2V368.0M1252.95 367.0V375.0M1261.59 357.0V375.0M1265.90 374.5V411.2M1278.85 406.2V409.2M1283.16 408.8V422.5M1296.11 376.2V381.2M1300.42 381.2V383.8M1304.74 383.8V397.5M1309.05 397.0V419.5M1317.68 414.2V456.2M1330.62 393.8V412.0M1334.94 412.0V470.0M1339.26 470.0V473.8M1352.20 442.0V480.5M1356.52 480.0V487.5M1373.78 435.0V457.5M1386.72 430.5V448.8M1391.04 448.0V460.0M1416.93 259.2V274.5M1421.24 273.8V328.8M1434.18 292.5V318.2M1442.82 303.8V305.0M1447.13 304.2V345.5M1451.45 345.5V362.5M1460.08 350.0V351.8M1464.39 351.2V352.5M1468.71 351.8V416.8M1481.65 401.8V423.2M1485.97 423.2V455.5M1503.23 408.8V414.5M1511.86 357.5V360.0M1520.49 357.0V372.0M1524.80 371.2V373.8M1529.12 373.2V374.5M1533.43 374.2V405.5M1559.32 279.5V312.5M1576.58 255.0V272.5M1589.53 243.8V248.8M1593.84 248.2V266.8M1602.47 244.2V271.8M1606.79 270.0V291.2M1615.41 273.8V290.0M1619.73 289.2V308.8M1624.05 308.0V337.5M1628.36 337.4V361.8M1636.99 350.2V351.2M1641.31 351.0V355.3M1645.62 354.5V361.0" stroke="#f23645" stroke-width="2.5" fill="none"/>
</g>
<g clip-path="url(#mainclip)">
<rect x="1691.3" y="494.8" width="300" height="30.4" rx="3.2" fill="#b9cde8" filter="url(#sh)"/>
<text x="1702.1" y="515.6" font-size="16" fill="#131722" textLength="287" lengthAdjust="spacingAndGlyphs">−364.24&#8201;B (−30.43%) −364,236,297,446</text>
<rect x="-20" y="768.6" width="176" height="31" rx="3.2" fill="#b9cde8" filter="url(#sh)"/>
<text x="10.7" y="789.7" font-size="16" fill="#131722" textLength="134.2" lengthAdjust="spacingAndGlyphs">−224,166,938,669</text>
</g>
<g fill="none">
<path d="M1650.6 741.1A12.4 12.4 0 1 0 1657.6 748.3" stroke="#9c27b0" stroke-width="1.5"/>
<circle cx="1654.4" cy="744" r="3.4" fill="#f23645"/>
<path d="M1649 746.5L1640.2 754H1645.6L1642 759L1651 751.5H1645.8Z" fill="#9c27b0"/>
<circle cx="1645.6" cy="783.4" r="12.6" stroke="#f23645" stroke-width="1.6" fill="#fff"/>
<clipPath id="flagc"><circle cx="1645.6" cy="783.4" r="9.8"/></clipPath>
<g clip-path="url(#flagc)"><rect x="1635" y="773" width="22" height="21" fill="#fff"/><path d="M1635 775.6H1657M1635 783.2H1657M1635 790.8H1657" stroke="#f23645" stroke-width="3.8"/><rect x="1635" y="773" width="12.6" height="12.2" fill="#2e86de"/><path d="M1638.2 777h.1M1641.6 777h.1M1645 777h.1M1638.2 780.4h.1M1641.6 780.4h.1M1645 780.4h.1M1638.2 783.6h.1M1641.6 783.6h.1M1645 783.6h.1" stroke="#fff" stroke-width="1.5" stroke-linecap="square"/></g>
</g>
<text x="22.4" y="57.9" font-size="16" fill="#131722" textLength="47.4" lengthAdjust="spacingAndGlyphs">Crypto</text>
<text x="74.8" y="57.9" font-size="16" fill="#131722" textLength="33.4" lengthAdjust="spacingAndGlyphs">Total</text>
<text x="112.9" y="57.9" font-size="16" fill="#131722" textLength="47.4" lengthAdjust="spacingAndGlyphs">Market</text>
<text x="165.5" y="57.9" font-size="16" fill="#131722" textLength="27.3" lengthAdjust="spacingAndGlyphs">Cap</text>
<text x="197.4" y="57.9" font-size="16" fill="#131722" textLength="66.6" lengthAdjust="spacingAndGlyphs">Excluding</text>
<text x="269" y="57.9" font-size="16" fill="#131722" textLength="33.2" lengthAdjust="spacingAndGlyphs">BTC,</text>
<text x="307.3" y="57.9" font-size="16" fill="#131722" textLength="8.4" lengthAdjust="spacingAndGlyphs">$</text>
<text x="320.4" y="57.9" font-size="16" fill="#131722" textLength="4.2" lengthAdjust="spacingAndGlyphs">·</text>
<text x="329.2" y="57.9" font-size="16" fill="#131722" textLength="20.6" lengthAdjust="spacingAndGlyphs">1W</text>
<text x="354.2" y="57.9" font-size="16" fill="#131722" textLength="4.2" lengthAdjust="spacingAndGlyphs">·</text>
<text x="362.8" y="57.9" font-size="16" fill="#131722" textLength="89.2" lengthAdjust="spacingAndGlyphs">CRYPTOCAP</text>
<text x="461" y="57.9" font-size="16" fill="#131722" textLength="11" lengthAdjust="spacingAndGlyphs">O</text>
<text x="473" y="57.9" font-size="16" fill="#f23645" textLength="40.3" lengthAdjust="spacingAndGlyphs">1.22&#8201;T</text>
<text x="521.25" y="57.9" font-size="16" fill="#131722" textLength="10.3" lengthAdjust="spacingAndGlyphs">H</text>
<text x="532.5" y="57.9" font-size="16" fill="#f23645" textLength="39.8" lengthAdjust="spacingAndGlyphs">1.25&#8201;T</text>
<text x="581.25" y="57.9" font-size="16" fill="#131722" textLength="7" lengthAdjust="spacingAndGlyphs">L</text>
<text x="589.6" y="57.9" font-size="16" fill="#f23645" textLength="37.4" lengthAdjust="spacingAndGlyphs">1.17&#8201;T</text>
<text x="635.25" y="57.9" font-size="16" fill="#131722" textLength="10" lengthAdjust="spacingAndGlyphs">C</text>
<text x="646.5" y="57.9" font-size="16" fill="#f23645" textLength="36.7" lengthAdjust="spacingAndGlyphs">1.19&#8201;T</text>
<text x="692.5" y="57.9" font-size="16" fill="#f23645" textLength="124" lengthAdjust="spacingAndGlyphs">−25.76&#8201;B (−2.11%)</text>
<text x="22.4" y="825" font-size="16" fill="#131722" textLength="22.8" lengthAdjust="spacingAndGlyphs">RSI</text>
<text x="51" y="825" font-size="16" fill="#131722" textLength="23.8" lengthAdjust="spacingAndGlyphs">(14,</text>
<text x="79.8" y="825" font-size="16" fill="#131722" textLength="42.2" lengthAdjust="spacingAndGlyphs">close)</text>
<text x="131.5" y="825" font-size="16" fill="#7e57c2" textLength="39.5" lengthAdjust="spacingAndGlyphs">40.47</text>
<text x="180" y="825" font-size="16" fill="#fdd835" textLength="39.5" lengthAdjust="spacingAndGlyphs">50.50</text>
<text x="1960.5" y="105.7" font-size="16" fill="#131722" textLength="33.5" lengthAdjust="spacingAndGlyphs">2.6&#8201;T</text>
<text x="1960.5" y="161.7" font-size="16" fill="#131722" textLength="33.5" lengthAdjust="spacingAndGlyphs">2.2&#8201;T</text>
<text x="1960.5" y="210.8" font-size="16" fill="#131722" textLength="33" lengthAdjust="spacingAndGlyphs">1.9&#8201;T</text>
<text x="1960.5" y="290.0" font-size="16" fill="#131722" textLength="33" lengthAdjust="spacingAndGlyphs">1.5&#8201;T</text>
<text x="1960.5" y="337.9" font-size="16" fill="#131722" textLength="33" lengthAdjust="spacingAndGlyphs">1.3&#8201;T</text>
<text x="1960.5" y="425.8" font-size="16" fill="#131722" textLength="19.5" lengthAdjust="spacingAndGlyphs">1&#8201;T</text>
<text x="1960.5" y="468.6" font-size="16" fill="#131722" textLength="39" lengthAdjust="spacingAndGlyphs">880&#8201;B</text>
<text x="1960.5" y="517.7" font-size="16" fill="#131722" textLength="39" lengthAdjust="spacingAndGlyphs">760&#8201;B</text>
<text x="1960.5" y="565.0" font-size="16" fill="#131722" textLength="39" lengthAdjust="spacingAndGlyphs">660&#8201;B</text>
<text x="1960.5" y="608.3" font-size="16" fill="#131722" textLength="39" lengthAdjust="spacingAndGlyphs">580&#8201;B</text>
<text x="1960.5" y="658.0" font-size="16" fill="#131722" textLength="39" lengthAdjust="spacingAndGlyphs">500&#8201;B</text>
<text x="1960.5" y="700.8" font-size="16" fill="#131722" textLength="39" lengthAdjust="spacingAndGlyphs">440&#8201;B</text>
<text x="1960.5" y="741.2" font-size="16" fill="#131722" textLength="39" lengthAdjust="spacingAndGlyphs">390&#8201;B</text>
<text x="1960.5" y="781.3" font-size="16" fill="#131722" textLength="39" lengthAdjust="spacingAndGlyphs">346&#8201;B</text>
<text x="1960.5" y="817.4" font-size="16" fill="#131722" textLength="49.5" lengthAdjust="spacingAndGlyphs">100.00</text>
<text x="1960.5" y="863.0" font-size="16" fill="#131722" textLength="40.5" lengthAdjust="spacingAndGlyphs">80.00</text>
<text x="1960.5" y="908.5" font-size="16" fill="#131722" textLength="40.5" lengthAdjust="spacingAndGlyphs">60.00</text>
<rect x="1953.4" y="38" width="77.8" height="31.7" rx="3.8" fill="#fff" stroke="#eff0f2" stroke-width="1.2"/>
<text x="1964.2" y="58.9" font-size="16" fill="#131722" textLength="31.4" lengthAdjust="spacingAndGlyphs">USD</text>
<path d="M1949.75 236H2007.5Q2010 236 2010 238.5V254.5Q2010 257 2007.5 257H1949.75Z" fill="#000"/>
<text x="1961.5" y="252" font-size="16" fill="#fff" textLength="41.5" lengthAdjust="spacingAndGlyphs">1.68&#8201;T</text>
<path d="M1950 350.8H2013.5Q2016 350.8 2016 353.3V385.8Q2016 388.3 2013.5 388.3H1950Z" fill="#f23645"/>
<text x="1961.5" y="366" font-size="16" fill="#fff" textLength="41.5" lengthAdjust="spacingAndGlyphs">1.19&#8201;T</text>
<text x="1960.3" y="383" font-size="16" fill="#fff" textLength="49" lengthAdjust="spacingAndGlyphs" fill-opacity="0.8">4d 17h</text>
<path d="M1950 389.3H2007.5Q2010 389.3 2010 391.8V407.5Q2010 410 2007.5 410H1950Z" fill="#000"/>
<text x="1961.5" y="405.1" font-size="16" fill="#fff" textLength="41.5" lengthAdjust="spacingAndGlyphs">1.15&#8201;T</text>
<path d="M1950 473H2004.5Q2007 473 2007 475.5V491.0Q2007 493.5 2004.5 493.5H1950Z" fill="#000"/>
<text x="1960.5" y="488.8" font-size="16" fill="#fff" textLength="39" lengthAdjust="spacingAndGlyphs">830&#8201;B</text>
<path d="M1950 915H2005.5Q2008 915 2008 917.5V933.1Q2008 935.6 2005.5 935.6H1950Z" fill="#fdd835"/>
<text x="1960.5" y="930.8" font-size="16" fill="#131722" textLength="40.5" lengthAdjust="spacingAndGlyphs">50.50</text>
<path d="M1950 937.2H2005.5Q2008 937.2 2008 939.7V955.3Q2008 957.8 2005.5 957.8H1950Z" fill="#7e57c2"/>
<text x="1960.5" y="953" font-size="16" fill="#fff" textLength="40.5" lengthAdjust="spacingAndGlyphs">40.47</text>
<text x="83.5" y="1019.1" font-size="16" fill="#131722" font-weight="bold" text-anchor="middle" textLength="38.5" lengthAdjust="spacingAndGlyphs">2019</text>
<text x="191.5" y="1019.1" font-size="16" fill="#131722" text-anchor="middle" textLength="19.5" lengthAdjust="spacingAndGlyphs">Jul</text>
<text x="308.0" y="1019.1" font-size="16" fill="#131722" font-weight="bold" text-anchor="middle" textLength="38.5" lengthAdjust="spacingAndGlyphs">2020</text>
<text x="420.25" y="1019.1" font-size="16" fill="#131722" text-anchor="middle" textLength="19.5" lengthAdjust="spacingAndGlyphs">Jul</text>
<text x="532.25" y="1019.1" font-size="16" fill="#131722" font-weight="bold" text-anchor="middle" textLength="38.5" lengthAdjust="spacingAndGlyphs">2021</text>
<text x="644.5" y="1019.1" font-size="16" fill="#131722" text-anchor="middle" textLength="19.5" lengthAdjust="spacingAndGlyphs">Jul</text>
<text x="756.75" y="1019.1" font-size="16" fill="#131722" font-weight="bold" text-anchor="middle" textLength="38.5" lengthAdjust="spacingAndGlyphs">2022</text>
<text x="869.0" y="1019.1" font-size="16" fill="#131722" text-anchor="middle" textLength="19.5" lengthAdjust="spacingAndGlyphs">Jul</text>
<text x="981.0" y="1019.1" font-size="16" fill="#131722" font-weight="bold" text-anchor="middle" textLength="38.5" lengthAdjust="spacingAndGlyphs">2023</text>
<text x="1093.25" y="1019.1" font-size="16" fill="#131722" text-anchor="middle" textLength="19.5" lengthAdjust="spacingAndGlyphs">Jul</text>
<text x="1205.5" y="1019.1" font-size="16" fill="#131722" font-weight="bold" text-anchor="middle" textLength="38.5" lengthAdjust="spacingAndGlyphs">2024</text>
<text x="1317.75" y="1019.1" font-size="16" fill="#131722" text-anchor="middle" textLength="19.5" lengthAdjust="spacingAndGlyphs">Jul</text>
<text x="1434.25" y="1019.1" font-size="16" fill="#131722" font-weight="bold" text-anchor="middle" textLength="38.5" lengthAdjust="spacingAndGlyphs">2025</text>
<text x="1546.5" y="1019.1" font-size="16" fill="#131722" text-anchor="middle" textLength="19.5" lengthAdjust="spacingAndGlyphs">Jul</text>
<text x="1658.5" y="1019.1" font-size="16" fill="#131722" font-weight="bold" text-anchor="middle" textLength="38.5" lengthAdjust="spacingAndGlyphs">2026</text>
<text x="1770.75" y="1019.1" font-size="16" fill="#131722" text-anchor="middle" textLength="19.5" lengthAdjust="spacingAndGlyphs">Jul</text>
<text x="1883.0" y="1019.1" font-size="16" fill="#131722" font-weight="bold" text-anchor="middle" textLength="38.5" lengthAdjust="spacingAndGlyphs">2027</text>
<g fill="#151515"><path d="M15 1057.2H29.9V1075.6H22.05V1063.75H15Z"/><circle cx="35.8" cy="1060.5" r="3.55"/><path d="M43.9 1057.2H51.75L44.55 1075.6H36.1Z"/></g>
<text x="60.3" y="1075.6" font-size="26.7" fill="#151515" font-weight="bold" textLength="150" lengthAdjust="spacingAndGlyphs">TradingView</text></svg></body></html>
